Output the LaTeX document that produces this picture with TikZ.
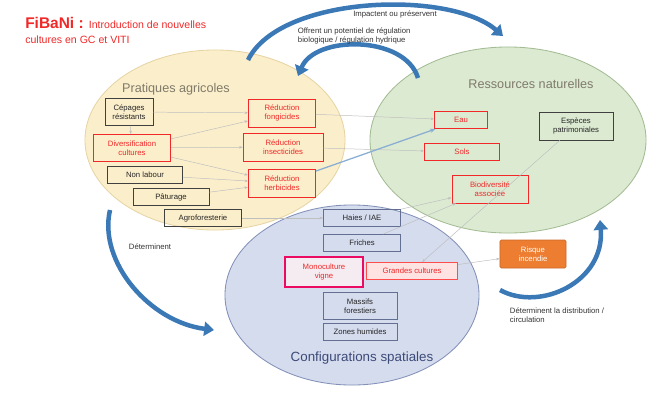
\documentclass[tikz,border=0pt]{standalone}
\usepackage{fontspec}
\setmainfont{Liberation Sans}
\usetikzlibrary{arrows.meta, positioning, shapes.geometric}

\definecolor{fondjaune}{HTML}{FBEECB}
\definecolor{bordjaune}{HTML}{E6D5A4}
\definecolor{fondvert}{HTML}{DCEAD2}
\definecolor{bordvert}{HTML}{A3BC93}
\definecolor{fondbleu}{HTML}{D5DCEE}
\definecolor{bordbleu}{HTML}{8391B8}
\definecolor{fleche}{HTML}{3B78B6}
\definecolor{rougetxt}{HTML}{F02828}
\definecolor{incendie}{HTML}{ED7D31}
\definecolor{titregris}{HTML}{7F7A6A}
\definecolor{titrebleu}{HTML}{3C4A78}

\tikzset{
  zone/.style={ellipse, draw, line width=0.6pt, inner sep=0pt},
  boite/.style={draw=black!75, line width=0.5pt, minimum height=0.43cm, inner sep=1pt,
    align=center, font=\fontsize{5.5}{6.5}\selectfont, text=black!85},
  boiterouge/.style={boite, draw=rougetxt, text=rougetxt},
  boitebleue/.style={boite, draw=titrebleu!80},
  lien/.style={draw=gray!50, line width=0.35pt, -{Stealth[length=2.5pt]}},
  grossefleche/.style={draw=fleche, line width=3.2pt, -{Triangle[width=10pt,length=7pt]}},
  etiquette/.style={font=\fontsize{5.5}{6.5}\selectfont, text=black!80, align=left}
}

\begin{document}
\begin{tikzpicture}[x=0.025cm, y=-0.025cm]
  \useasboundingbox (0,0) rectangle (672,396);

  % les trois ensembles
  \node[zone, fill=fondbleu, draw=bordbleu, minimum width=6.35cm, minimum height=4.5cm] (config) at (352,295) {};
  \node[zone, fill=fondjaune, draw=bordjaune, minimum width=6.5cm, minimum height=4.5cm] (pratiques) at (215,140) {};
  \node[zone, fill=fondvert, draw=bordvert, minimum width=6.9cm, minimum height=4.65cm] (ressources) at (508,140) {};

  \node[font=\fontsize{9}{10}\selectfont, text=titregris] (tpra) at (176,89) {Pratiques agricoles};
  \node[font=\fontsize{9}{10}\selectfont, text=titregris] (tres) at (531,84) {Ressources naturelles};
  \node[font=\fontsize{9.5}{11}\selectfont, text=titrebleu] (tcon) at (362,358) {Configurations spatiales};

  \node[anchor=north west, align=left, text=rougetxt, inner sep=0pt] (titre) at (25,17)
    {{\fontsize{11}{12}\selectfont\bfseries FiBaNi :} {\fontsize{7.5}{9}\selectfont Introduction de nouvelles}\\[-1pt]
     {\fontsize{7.5}{9}\selectfont cultures en GC et VITI}};

  % pratiques agricoles
  \node[boite, minimum width=1.2cm, minimum height=0.68cm] (cep) at (129,112) {Cépages\\résistants};
  \node[boiterouge, minimum width=1.93cm, minimum height=0.68cm] (div) at (132,148) {Diversification\\cultures};
  \node[boite, minimum width=1.88cm] (nonlab) at (145,175) {Non labour};
  \node[boite, minimum width=1.9cm] (pat) at (171,197) {Pâturage};
  \node[boite, minimum width=1.93cm] (agro) at (203,218) {Agroforesterie};
  \node[boiterouge, minimum width=1.68cm, minimum height=0.7cm] (fongi) at (282,113) {Réduction\\fongicides};
  \node[boiterouge, minimum width=2cm, minimum height=0.7cm] (insect) at (283,147) {Réduction\\insecticides};
  \node[boiterouge, minimum width=1.68cm, minimum height=0.7cm] (herbi) at (282,183) {Réduction\\herbicides};

  % ressources naturelles
  \node[boiterouge, minimum width=1.33cm] (eau) at (461,120) {Eau};
  \node[boiterouge, minimum width=1.88cm] (sols) at (462,152) {Sols};
  \node[boiterouge, minimum width=1.9cm, minimum height=0.7cm] (biodiv) at (490,189) {Biodiversité\\associée};
  \node[boite, minimum width=1.85cm, minimum height=0.7cm] (esp) at (576,126) {Espèces\\patrimoniales};

  % configurations spatiales
  \node[boitebleue, minimum width=1.93cm] (haies) at (362,218) {Haies / IAE};
  \node[boitebleue, minimum width=1.93cm] (friches) at (362,243) {Friches};
  \node[boiterouge, draw=magenta!60!red, line width=0.9pt, fill=fondbleu!60!pink!40, minimum width=1.95cm, minimum height=0.75cm] (mono) at (324,272) {Monoculture\\vigne};
  \node[boiterouge, draw=red!70, fill=pink!45, minimum width=2.28cm] (grandes) at (412,271) {Grandes cultures};
  \node[boitebleue, minimum width=1.85cm, minimum height=0.68cm] (massifs) at (360,306) {Massifs\\forestiers};
  \node[boitebleue, minimum width=1.85cm] (zones) at (360,332) {Zones humides};

  \node[boite, draw=incendie!85!black, fill=incendie, text=white, rounded corners=1pt, minimum width=1.65cm, minimum height=0.7cm] (risque) at (533,254) {Risque\\incendie};

  % liens fins
  \draw[lien] (cep) -- (div);
  \draw[lien] (cep) -- (fongi);
  \draw[lien] (div) -- (fongi);
  \draw[lien] (div) -- (insect);
  \draw[lien] (div) -- (herbi);
  \draw[lien] (nonlab) -- (herbi);
  \draw[lien] (pat) -- (herbi);
  \draw[lien] (agro) -- (haies);
  \draw[lien] (insect) -- (sols);
  \draw[lien] (fongi) -- (eau);
  \draw[lien] (haies) -- (biodiv);
  \draw[lien] (friches) -- (biodiv);
  \draw[lien] (esp) -- (grandes);
  \draw[lien] (grandes) -- (risque);
  \draw[draw=fleche!60, line width=0.9pt, -{Stealth[length=4pt]}] (herbi) -- (eau);

  % grandes fleches
  \coordinate (a1) at (248,60);
  \coordinate (b1) at (503,36);
  \coordinate (a2) at (418,78);
  \coordinate (b2) at (298,76);
  \coordinate (a3) at (110,210);
  \coordinate (b3) at (214,330);
  \coordinate (a4) at (500,290);
  \coordinate (b4) at (600,220);

  \draw[grossefleche] (a1) .. controls (280,-5) and (450,-10) .. (b1);
  \draw[grossefleche] (a2) .. controls (405,35) and (315,35) .. (b2);
  \draw[grossefleche] (a3) .. controls (98,262) and (150,322) .. (b3);
  \draw[grossefleche] (a4) .. controls (540,312) and (605,282) .. (b4);

  \node[etiquette] (l1) at (395,14) {Impactent ou préservent};
  \node[etiquette, anchor=west] (l2) at (293,36) {Offrent un potentiel de régulation\\biologique / régulation hydrique};
  \node[etiquette] (l3) at (150,247) {Déterminent};
  \node[etiquette, anchor=west] (l4) at (505,315) {Déterminent la distribution /\\circulation};
\end{tikzpicture}
\end{document}
